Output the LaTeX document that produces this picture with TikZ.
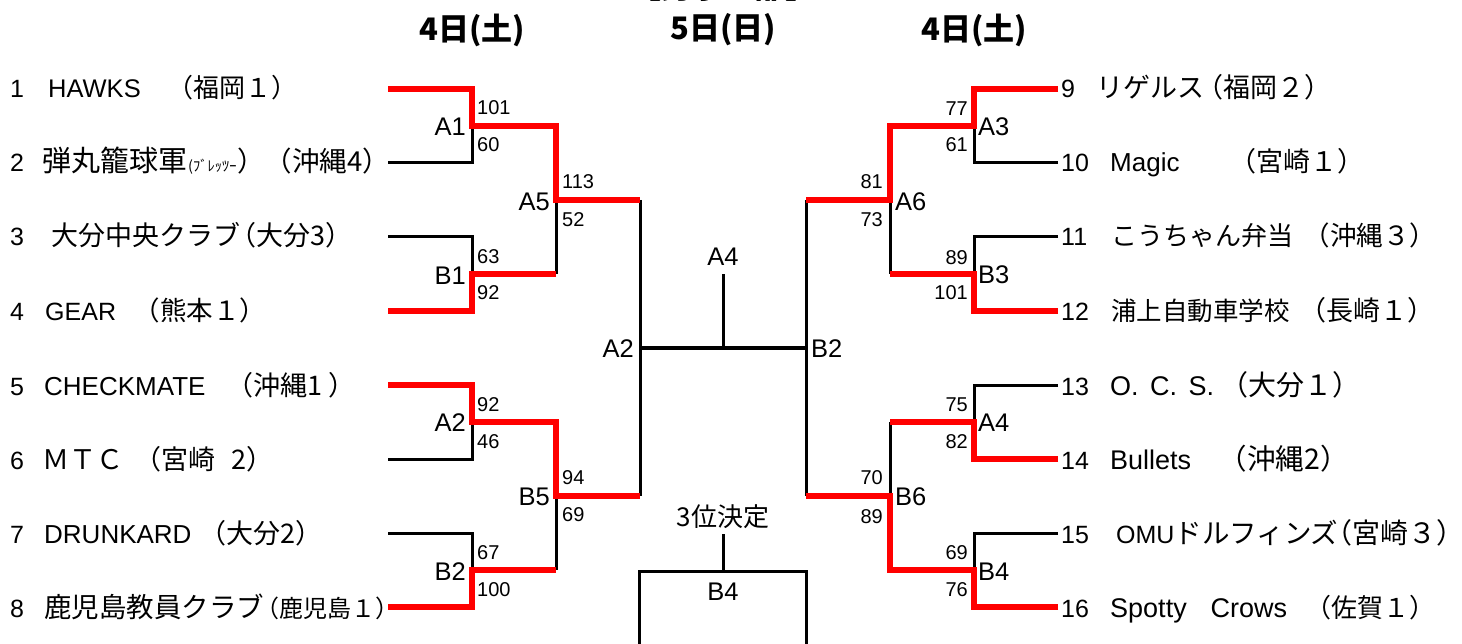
\documentclass[tikz,border=0pt]{standalone}
\usepackage{fontspec}
\setmainfont{Liberation Sans}
\newfontfamily\jp{Noto Sans CJK JP}
\newcommand\fsz[1]{\fontsize{#1}{#1}\selectfont}
\newcommand\jpp[1]{\hspace*{-.5em}#1\hspace*{-.5em}}
\begin{document}
\begin{tikzpicture}[x=1pt,y=-1pt,
  blk/.style={line width=3pt,black,line join=miter},
  win/.style={line width=6.5pt,red,line join=miter},
  tnum/.style={inner sep=0pt,anchor=base west,font=\fsz{25}},
  tnm/.style={inner sep=0pt,anchor=base west},
  ml/.style={inner sep=0pt,font=\fsz{25.5}},
  sc/.style={inner sep=0pt,font=\fsz{20}},
  hdr/.style={inner sep=0pt,font={\jp\bfseries\fsz{31}}}]
\useasboundingbox (0,0) rectangle (1462,644);
\fill[white] (0,0) rectangle (1462,644);
% title (cut off at the top)
\begin{scope}
\clip (0,0) rectangle (1462,644);
\node[hdr,anchor=base] (title) at (723,-1) {【男子の部】};
\end{scope}
\node[hdr] (h1) at (472,30) {4日(土)};
\node[hdr] (h2) at (723,30) {5日(日)};
\node[hdr] (h3) at (974,30) {4日(土)};
% coordinates
\coordinate (L1) at (388,89);  \coordinate (L2) at (388,163);
\coordinate (L3) at (388,237); \coordinate (L4) at (388,311);
\coordinate (L5) at (388,385); \coordinate (L6) at (388,459);
\coordinate (L7) at (388,533); \coordinate (L8) at (388,607);
\coordinate (R9) at (1058,89);  \coordinate (R10) at (1058,163);
\coordinate (R11) at (1058,237); \coordinate (R12) at (1058,311);
\coordinate (R13) at (1058,385); \coordinate (R14) at (1058,459);
\coordinate (R15) at (1058,533); \coordinate (R16) at (1058,607);
\coordinate (a1) at (472,126); \coordinate (b1) at (472,274);
\coordinate (a2) at (472,422); \coordinate (b2) at (472,570);
\coordinate (a5) at (556,200); \coordinate (b5) at (556,496);
\coordinate (ft) at (640,200); \coordinate (fb) at (640,496); \coordinate (fm) at (640,348);
\coordinate (cm) at (723,348); \coordinate (ct) at (723,274);
\coordinate (gt) at (806,200); \coordinate (gb) at (806,496); \coordinate (gm) at (806,348);
\coordinate (a6) at (890,200); \coordinate (b6) at (890,496);
\coordinate (a3) at (974,126); \coordinate (b3) at (974,274);
\coordinate (a4) at (974,422); \coordinate (b4) at (974,570);
\coordinate (tt) at (723,534); \coordinate (tb) at (723,571);
\coordinate (bl) at (639,644); \coordinate (br) at (806,644);
% black lines
\draw[blk] (L2) -| (a1);
\draw[blk] (L3) -| (b1);
\draw[blk] (L6) -| (a2);
\draw[blk] (L7) -| (b2);
\draw[blk] (a5) -- (a5 |- b1);
\draw[blk] (b5) -- (b5 |- b2);
\draw[blk] (ft) -- (fb);
\draw[blk] (fm) -- (gm);
\draw[blk] (cm) -- (ct);
\draw[blk] (gt) -- (gb);
\draw[blk] (a6) -- (a6 |- b3);
\draw[blk] (b6) -- (b6 |- a4);
\draw[blk] (R10) -| (a3);
\draw[blk] (R11) -| (b3);
\draw[blk] (R13) -| (a4);
\draw[blk] (R15) -| (b4);
\draw[blk] (tt) -- (tb);
\draw[blk] (bl) |- (tb) -| (br);
% winners
\draw[win] (L1) -| (a1) -| (a5) -- (ft);
\draw[win] (L4) -| (b1) -- (a5 |- b1);
\draw[win] (L5) -| (a2) -| (b5) -- (fb);
\draw[win] (L8) -| (b2) -- (b5 |- b2);
\draw[win] (R9) -| (a3) -| (a6) -- (gt);
\draw[win] (R12) -| (b3) -- (a6 |- b3);
\draw[win] (R14) -| (a4) -- (b6 |- a4);
\draw[win] (R16) -| (b4) -| (b6) -- (gb);
% match labels
\node[ml,anchor=east] (lA1) at (466,127) {A1};
\node[ml,anchor=east] (lB1) at (466,276) {B1};
\node[ml,anchor=east] (lA2) at (466,423) {A2};
\node[ml,anchor=east] (lB2) at (466,572) {B2};
\node[ml,anchor=east] (lA5) at (550,202) {A5};
\node[ml,anchor=east] (lB5) at (550,497) {B5};
\node[ml,anchor=west] (lA3) at (978,127) {A3};
\node[ml,anchor=west] (lB3) at (978,275) {B3};
\node[ml,anchor=west] (lA4) at (978,423) {A4};
\node[ml,anchor=west] (lB4) at (978,572) {B4};
\node[ml,anchor=west] (lA6) at (895,202) {A6};
\node[ml,anchor=west] (lB6) at (895,497) {B6};
\node[ml,anchor=east] (cA2) at (634,349) {A2};
\node[ml,anchor=west] (cB2) at (811,349) {B2};
\node[ml] (cA4) at (723,257) {A4};
\node[inner sep=0pt,font={\jp\fsz{26}}] (third) at (723,517) {3位決定};
\node[ml] (cB4) at (723,592) {B4};
% scores left
\node[sc,anchor=west] (s1) at (477,108) {101};
\node[sc,anchor=west] (s2) at (477,145) {60};
\node[sc,anchor=west] (s3) at (477,257) {63};
\node[sc,anchor=west] (s4) at (477,293) {92};
\node[sc,anchor=west] (s5) at (477,405) {92};
\node[sc,anchor=west] (s6) at (477,442) {46};
\node[sc,anchor=west] (s7) at (477,553) {67};
\node[sc,anchor=west] (s8) at (477,590) {100};
\node[sc,anchor=west] (s9) at (562,182) {113};
\node[sc,anchor=west] (s10) at (562,220) {52};
\node[sc,anchor=west] (s11) at (562,478) {94};
\node[sc,anchor=west] (s12) at (562,515) {69};
% scores right
\node[sc,anchor=east] (r1) at (968,109) {77};
\node[sc,anchor=east] (r2) at (968,145) {61};
\node[sc,anchor=east] (r3) at (968,258) {89};
\node[sc,anchor=east] (r4) at (968,293) {101};
\node[sc,anchor=east] (r5) at (968,405) {75};
\node[sc,anchor=east] (r6) at (968,442) {82};
\node[sc,anchor=east] (r7) at (968,553) {69};
\node[sc,anchor=east] (r8) at (968,590) {76};
\node[sc,anchor=east] (r9) at (883,182) {81};
\node[sc,anchor=east] (r10) at (883,220) {73};
\node[sc,anchor=east] (r11) at (883,478) {70};
\node[sc,anchor=east] (r12) at (883,517) {89};
% left teams
\node[tnum] (n1) at (10,98) {1};
\node[tnm,font=\fsz{25.5}] (t1) at (48,98) {HAWKS};
\node[tnm,font={\jp\fsz{26}}] (p1) at (180,98) {\jpp{（福岡１）}};
\node[tnum] (n2) at (10,172) {2};
\node[tnm,font={\jp\fsz{29}}] (t2) at (42,172) {弾丸籠球軍};
\node[tnm,font={\jp\fsz{14.5}}] (k2) at (188,172) {(ﾌﾞﾚｯﾂｰ};
\node[tnm,font={\jp\fsz{27.5}}] (p2) at (237,172) {）（沖縄4）};
\node[tnum] (n3) at (10,246) {3};
\node[tnm,font={\jp\fsz{27}}] (t3) at (51,246) {大分中央クラブ};
\node[tnm,font={\jp\fsz{27}}] (p3) at (243,246) {\jpp{（大分3）}};
\node[tnum] (n4) at (10,320) {4};
\node[tnm,font=\fsz{25}] (t4) at (45,320) {GEAR};
\node[tnm,font={\jp\fsz{26.5}}] (p4) at (147,320) {\jpp{（熊本１）}};
\node[tnum] (n5) at (10,395) {5};
\node[tnm,font=\fsz{26}] (t5) at (44,395) {CHECKMATE};
\node[tnm,font={\jp\fsz{27}}] (p5) at (240,395) {\jpp{（沖縄1 ）}};
\node[tnum] (n6) at (10,469) {6};
\node[tnm,font={\jp\fsz{27}}] (t6) at (42,469) {ＭＴＣ};
\node[tnm,font={\jp\fsz{27}}] (p6) at (148,469) {\jpp{（宮崎\hspace{0.6em}2）}};
\node[tnum] (n7) at (10,543) {7};
\node[tnm,font=\fsz{26}] (t7) at (44,543) {DRUNKARD};
\node[tnm,font={\jp\fsz{27}}] (p7) at (213,543) {\jpp{（大分2）}};
\node[tnum] (n8) at (10,617) {8};
\node[tnm,font={\jp\fsz{27.5}}] (t8) at (44,617) {鹿児島教員クラブ};
\node[tnm,font={\jp\fsz{24}}] (p8) at (267,617) {\jpp{（鹿児島１）}};
% right teams
\node[tnum] (n9) at (1061,98) {9};
\node[tnm,font={\jp\fsz{27}}] (t9) at (1096,98) {リゲルス};
\node[tnm,font={\jp\fsz{27}}] (p9) at (1210,98) {\jpp{（福岡２）}};
\node[tnum] (n10) at (1061,172) {10};
\node[tnm,font=\fsz{26}] (t10) at (1110,172) {Magic};
\node[tnm,font={\jp\fsz{27}}] (p10) at (1243,172) {\jpp{（宮崎１）}};
\node[tnum] (n11) at (1061,246) {11};
\node[tnm,font={\jp\fsz{26}}] (t11) at (1111,246) {こうちゃん弁当};
\node[tnm,font={\jp\fsz{26.5}}] (p11) at (1317,246) {\jpp{（沖縄３）}};
\node[tnum] (n12) at (1061,320) {12};
\node[tnm,font={\jp\fsz{25.5}}] (t12) at (1111,320) {浦上自動車学校};
\node[tnm,font={\jp\fsz{27}}] (p12) at (1313,320) {\jpp{（長崎１）}};
\node[tnum] (n13) at (1061,395) {13};
\node[tnm,font=\fsz{27}] (t13) at (1110,395) {O.\hspace{11.5pt}C.\hspace{11.5pt}S.};
\node[tnm,font={\jp\fsz{28}}] (p13) at (1234,395) {\jpp{（大分１）}};
\node[tnum] (n14) at (1061,469) {14};
\node[tnm,font=\fsz{27}] (t14) at (1110,469) {Bullets};
\node[tnm,font={\jp\fsz{28.5}}] (p14) at (1233,469) {\jpp{（沖縄2）}};
\node[tnum] (n15) at (1061,543) {15};
\node[tnm,font=\fsz{25}] (t15) at (1116,543) {OMU{\jp\fsz{27.5}ドルフィンズ}};
\node[tnm,font={\jp\fsz{28}}] (p15) at (1338,543) {\jpp{（宮崎３）}};
\node[tnum] (n16) at (1061,617) {16};
\node[tnm,font=\fsz{27}] (t16) at (1110,617) {Spotty\hspace{24pt}Crows};
\node[tnm,font={\jp\fsz{26}}] (p16) at (1318,617) {\jpp{（佐賀１）}};
\end{tikzpicture}
\end{document}
